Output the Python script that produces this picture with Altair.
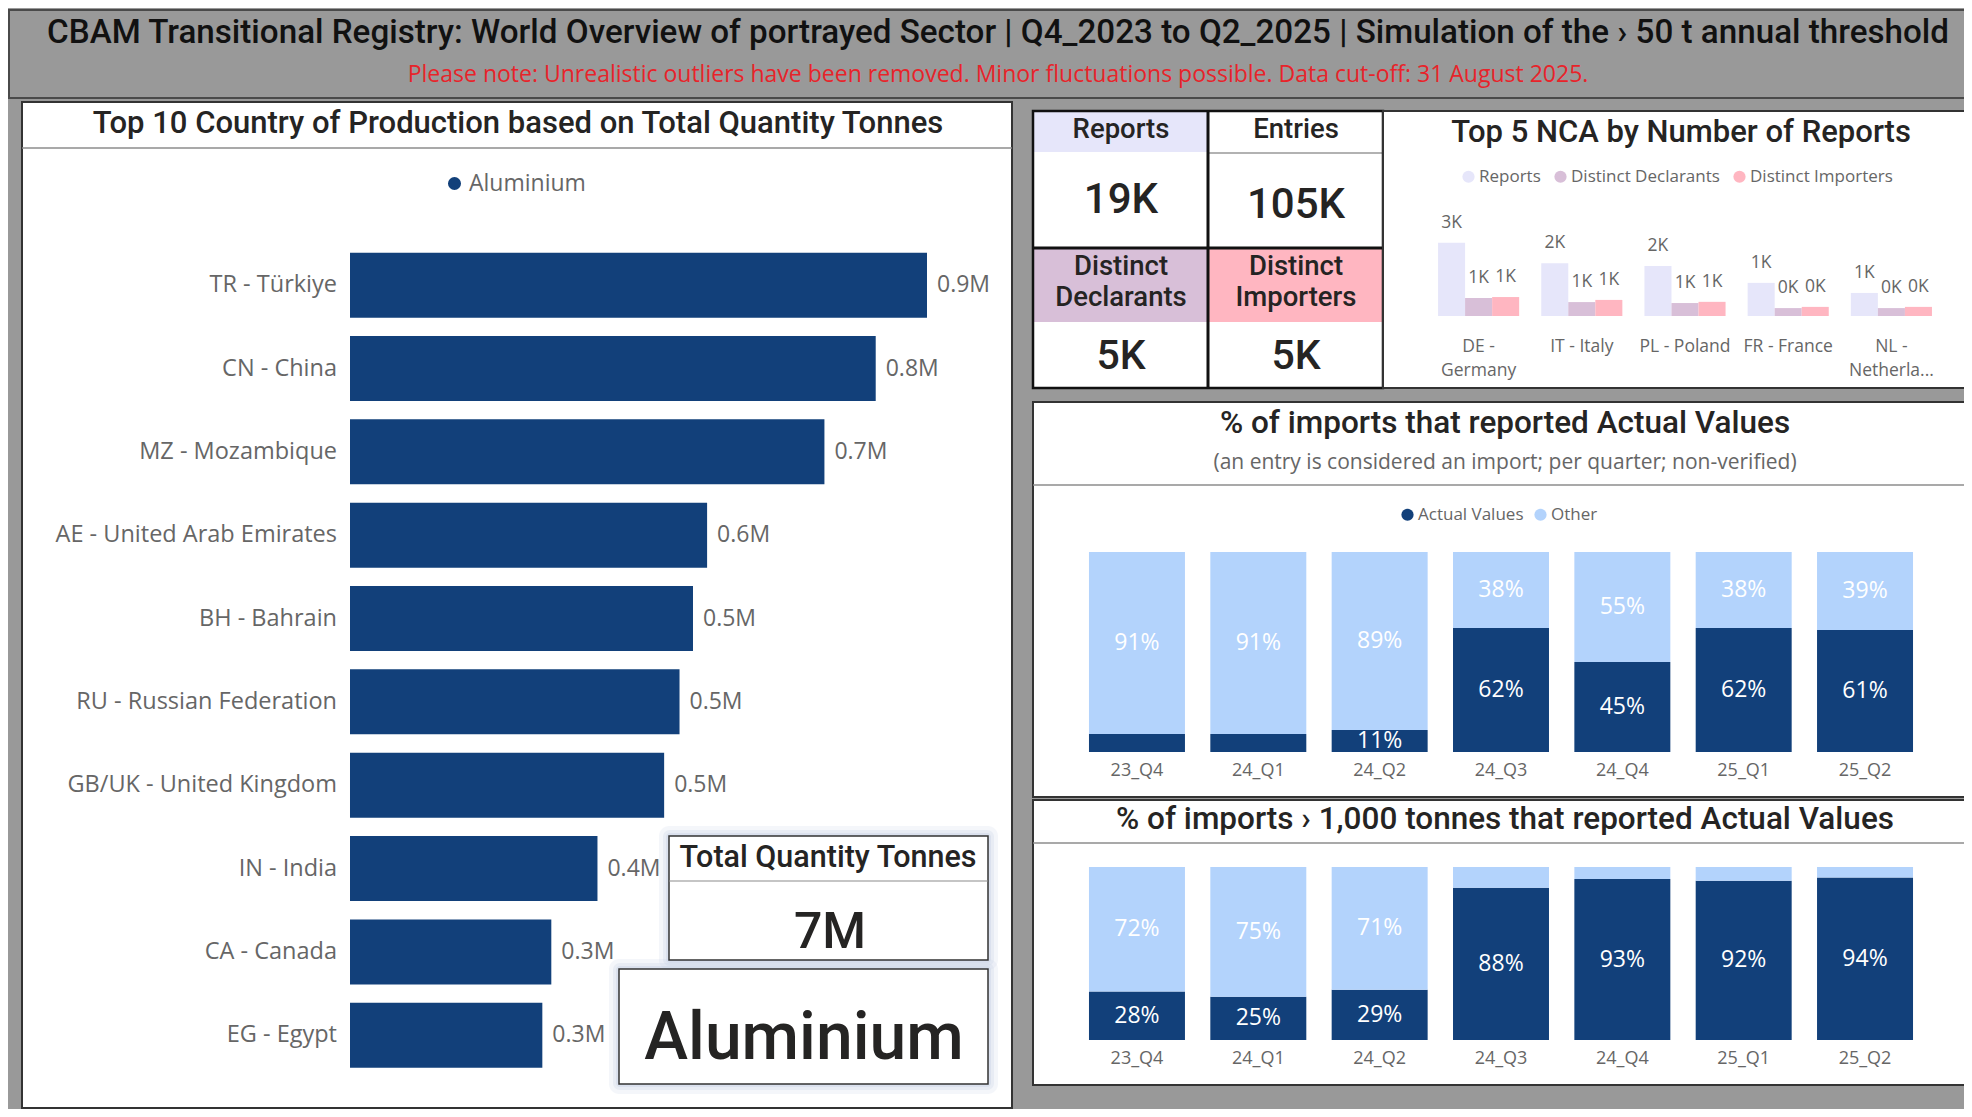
import altair as alt
import pandas as pd

# ---------------- data ----------------
title_text = "CBAM Transitional Registry: World Overview of portrayed Sector | Q4_2023 to Q2_2025 | Simulation of the \u203a 50 t annual threshold"
note_text = "Please note: Unrealistic outliers have been removed. Minor fluctuations possible. Data cut-off: 31 August 2025."

countries = ["TR - Türkiye", "CN - China", "MZ - Mozambique", "AE - United Arab Emirates",
             "BH - Bahrain", "RU - Russian Federation", "GB/UK - United Kingdom",
             "IN - India", "CA - Canada", "EG - Egypt"]
tonnes = [900000, 820000, 740000, 557000, 535000, 514000, 490000, 386000, 314000, 300000]
sector = "Aluminium"
total_tonnes_label = "7M"

kpi_names = ["Reports", "Entries", "Distinct Declarants", "Distinct Importers"]
kpi_values = ["19K", "105K", "5K", "5K"]

nca = ["DE - Germany", "IT - Italy", "PL - Poland", "FR - France", "NL - Netherlands"]
metrics = ["Reports", "Distinct Declarants", "Distinct Importers"]
nca_reports = [3050, 2200, 2080, 1380, 960]
nca_declarants = [750, 580, 540, 330, 330]
nca_importers = [790, 670, 590, 380, 380]

quarters = ["23_Q4", "24_Q1", "24_Q2", "24_Q3", "24_Q4", "25_Q1", "25_Q2"]
series = ["Actual Values", "Other"]
actual_all = [9, 9, 11, 62, 45, 62, 61]
other_all = [91, 91, 89, 38, 55, 38, 39]
actual_big = [28, 25, 29, 88, 93, 92, 94]
other_big = [72, 75, 71, 12, 7, 8, 6]

# ---------------- styles ----------------
W, H = 1956, 1101
BG = "#999999"
NAVY = "#12407a"
LIGHT = "#b3d3fc"
GTXT = "#666666"
DTXT = "#252423"
TF = "Roboto"
BF = "Open Sans"

one = pd.DataFrame({"k": [0]})


def rect(x, x2, y, y2, fill="white", stroke=None, sw=0, opacity=1.0, corner=0, fill_opacity=1.0):
    kw = dict(fill=fill, opacity=opacity, fillOpacity=fill_opacity)
    if stroke:
        kw.update(stroke=stroke, strokeWidth=sw)
    if corner:
        kw["cornerRadius"] = corner
    return alt.Chart(one).mark_rect(**kw).encode(
        x=alt.value(x), x2=alt.value(x2), y=alt.value(y), y2=alt.value(y2))


def hline(x, x2, y, color, sw):
    return alt.Chart(one).mark_rule(color=color, strokeWidth=sw).encode(
        x=alt.value(x), x2=alt.value(x2), y=alt.value(y))


def vline(x, y, y2, color, sw):
    return alt.Chart(one).mark_rule(color=color, strokeWidth=sw).encode(
        x=alt.value(x), y=alt.value(y), y2=alt.value(y2))


def label(txt, x, y, size, font=TF, color=DTXT, weight=500, align="center", baseline="alphabetic"):
    return alt.Chart(one).mark_text(text=txt, font=font, fontSize=size, color=color,
                                    fontWeight=weight, align=align, baseline=baseline).encode(
        x=alt.value(x), y=alt.value(y))


def glow(x, x2, y, y2):
    return [rect(x - 10, x2 + 10, y - 10, y2 + 10, fill="#c3cfe2", opacity=0.18, corner=10),
            rect(x - 6, x2 + 6, y - 6, y2 + 6, fill="#c3cfe2", opacity=0.25, corner=7),
            rect(x - 3, x2 + 3, y - 3, y2 + 3, fill="#c3cfe2", opacity=0.35, corner=4)]


layers = []

# ---------------- title band ----------------
layers.append(rect(1, 1975, 2, 90, fill=BG, stroke="#4a4a4a", sw=2))
layers.append(label(title_text, 990, 35, 33.2, color="#111111"))
layers.append(label(note_text, 990, 74, 23, font=BF, color="#e8232a", weight="normal"))

# ---------------- left panel ----------------
layers.append(rect(14, 1004, 94, 1100, fill="white", stroke="#333333", sw=2))
layers.append(hline(14, 1004, 140, "#8c8c8c", 1.5))
layers.append(label("Top 10 Country of Production based on Total Quantity Tonnes", 510, 125, 31))

left_df = pd.DataFrame({"country": countries, "tonnes": tonnes, "sector": [sector] * len(countries)})
xs_left = alt.Scale(domain=[0, 900000], range=[342, 919], nice=False, zero=True)
ys_left = alt.Scale(domain=countries, range=[235.5, 1068.9], paddingInner=0.22, paddingOuter=0.11)

left_bars = alt.Chart(left_df).mark_bar().encode(
    x=alt.X("tonnes:Q", scale=xs_left, axis=None),
    y=alt.Y("country:N", scale=ys_left, axis=None),
    color=alt.Color("sector:N", scale=alt.Scale(domain=[sector], range=[NAVY]),
                    legend=alt.Legend(orient="none", legendX=435, legendY=164, title=None,
                                      symbolType="circle", symbolSize=170, labelFont=BF,
                                      labelFontSize=23, labelColor=GTXT, padding=0,
                                      labelOffset=3)))
left_vals = alt.Chart(left_df).transform_calculate(
    lab="format(datum.tonnes / 1000000, '.1f') + 'M'").mark_text(
    align="left", baseline="middle", dx=10, font=BF, fontSize=23, color=GTXT).encode(
    x=alt.X("tonnes:Q", scale=xs_left, axis=None),
    y=alt.Y("country:N", scale=ys_left, axis=None),
    text="lab:N")
left_cats = alt.Chart(left_df).transform_calculate(zero="0").mark_text(
    align="right", baseline="middle", dx=-13, font=BF, fontSize=23.5, color=GTXT).encode(
    x=alt.X("zero:Q", scale=xs_left, axis=None),
    y=alt.Y("country:N", scale=ys_left, axis=None),
    text="country:N")
layers += [left_bars, left_vals, left_cats]

# KPI boxes inside left panel
layers += glow(661, 980, 828, 952)
layers += glow(611, 980, 961, 1076)
layers.append(rect(661, 980, 828, 952, fill="white", stroke="#333333", sw=1.5))
layers.append(hline(661, 980, 873, "#8c8c8c", 1.2))
layers.append(label("Total Quantity Tonnes", 820, 859, 30.5))
layers.append(label(total_tonnes_label, 822, 940, 50))
layers.append(rect(611, 980, 961, 1076, fill="white", stroke="#333333", sw=1.5))
layers.append(label(sector, 796, 1051, 66))

# ---------------- KPI grid ----------------
layers.append(rect(1025, 1375, 103, 380, fill="white"))
layers.append(rect(1025, 1200, 103, 144, fill="#e6e6fa"))
layers.append(rect(1025, 1200, 240, 314, fill="#d8bfd8"))
layers.append(rect(1200, 1375, 240, 314, fill="#ffb6c1"))
layers.append(hline(1200, 1375, 145, "#999999", 1.5))
layers.append(vline(1200, 103, 380, "#111111", 3))
layers.append(hline(1025, 1375, 240, "#111111", 3))
layers.append(rect(1025, 1375, 103, 380, fill="white", fill_opacity=0, stroke="#111111", sw=2.5))

layers.append(label(kpi_names[0], 1113, 130, 27.5))
layers.append(label(kpi_names[1], 1288, 130, 27.5))
layers.append(label(kpi_values[0], 1113, 205, 42))
layers.append(label(kpi_values[1], 1288, 210, 42))
for cx, name in [(1113, kpi_names[2]), (1288, kpi_names[3])]:
    w1, w2 = name.split(" ")
    layers.append(label(w1, cx, 267, 27.5))
    layers.append(label(w2, cx, 298, 27.5))
layers.append(label(kpi_values[2], 1113, 361, 41))
layers.append(label(kpi_values[3], 1288, 361, 41))

# ---------------- Top 5 NCA ----------------
layers.append(rect(1375, 1975, 103, 380, fill="white", stroke="#333333", sw=2))
layers.append(label("Top 5 NCA by Number of Reports", 1673, 134, 31))

rows = []
for m, vals in zip(metrics, [nca_reports, nca_declarants, nca_importers]):
    for c, v in zip(nca, vals):
        rows.append({"nca": c, "metric": m, "value": v})
nca_df = pd.DataFrame(rows)
xs_nca = alt.Scale(domain=nca, range=[1419, 1935], paddingInner=0.214, paddingOuter=0.107)
xo_nca = alt.Scale(domain=metrics, paddingInner=0, paddingOuter=0)
xo_nca_txt = alt.Scale(type="point", domain=metrics, padding=0.5)
ys_nca = alt.Scale(domain=[0, 3000], range=[308, 236], nice=False, zero=True)

nca_bars = alt.Chart(nca_df).mark_bar().encode(
    x=alt.X("nca:N", scale=xs_nca, axis=None),
    xOffset=alt.XOffset("metric:N", scale=xo_nca),
    y=alt.Y("value:Q", scale=ys_nca, axis=None),
    color=alt.Color("metric:N", scale=alt.Scale(domain=metrics, range=["#e6e6fa", "#d8bfd8", "#ffb6c1"]),
                    legend=alt.Legend(orient="none", legendX=1452, legendY=160, title=None,
                                      direction="horizontal", symbolType="circle", symbolSize=150,
                                      labelFont=BF, labelFontSize=17, labelColor=GTXT, padding=0,
                                      columnPadding=11, labelOffset=2)))
nca_vals = alt.Chart(nca_df).transform_calculate(
    lab="format(datum.value / 1000, '.0f') + 'K'").mark_text(
    baseline="middle", dy=-20, font=BF, fontSize=17.5, color=GTXT).encode(
    x=alt.X("nca:N", scale=xs_nca, axis=None),
    xOffset=alt.XOffset("metric:N", scale=xo_nca_txt),
    y=alt.Y("value:Q", scale=ys_nca, axis=None),
    text="lab:N")
wrap_expr = ("length(datum.nca) > 11 ? split(datum.nca, ' - ')[0] + ' -\\n' + "
             "(length(split(datum.nca, ' - ')[1]) > 8 ? slice(split(datum.nca, ' - ')[1], 0, 8) + '...' "
             ": split(datum.nca, ' - ')[1]) : datum.nca")
nca_cats = alt.Chart(pd.DataFrame({"nca": nca})).transform_calculate(
    zero="0", lab=wrap_expr).mark_text(
    baseline="top", dy=22, lineBreak="\n", lineHeight=24, font=BF, fontSize=17.5, color=GTXT).encode(
    x=alt.X("nca:N", scale=xs_nca, axis=None),
    y=alt.Y("zero:Q", scale=ys_nca, axis=None),
    text="lab:N")
layers += [nca_bars, nca_vals, nca_cats]

# ---------------- stacked percentage panels ----------------
xs_q = alt.Scale(domain=quarters, range=[1068.3, 1917.7], paddingInner=0.209, paddingOuter=0.1045)


def stacked(actual, other, ys, legend, thresh):
    df = pd.DataFrame({
        "quarter": quarters * 2,
        "series": [series[0]] * len(quarters) + [series[1]] * len(quarters),
        "pct": actual + other,
        "ord": [0] * len(quarters) + [1] * len(quarters),
    })
    base = alt.Chart(df).transform_stack(
        stack="pct", groupby=["quarter"], as_=["y0", "y1"],
        sort=[alt.SortField("ord", order="ascending")])
    bars = base.mark_bar().encode(
        x=alt.X("quarter:N", scale=xs_q, axis=None),
        y=alt.Y("y0:Q", scale=ys, axis=None),
        y2="y1:Q",
        color=alt.Color("series:N", scale=alt.Scale(domain=series, range=[NAVY, LIGHT]), legend=legend))
    labs = base.transform_filter(f"datum.pct >= {thresh}").transform_calculate(
        mid="(datum.y0 + datum.y1) / 2", lab="datum.pct + '%'").mark_text(
        baseline="middle", font=BF, fontSize=23, color="white").encode(
        x=alt.X("quarter:N", scale=xs_q, axis=None),
        y=alt.Y("mid:Q", scale=ys, axis=None),
        text="lab:N")
    cats = alt.Chart(pd.DataFrame({"quarter": quarters})).transform_calculate(zero="0").mark_text(
        baseline="middle", dy=19, font=BF, fontSize=18, color=GTXT).encode(
        x=alt.X("quarter:N", scale=xs_q, axis=None),
        y=alt.Y("zero:Q", scale=ys, axis=None),
        text="quarter:N")
    return [bars, labs, cats]


# panel 2
layers.append(rect(1025, 1975, 394, 789, fill="white", stroke="#333333", sw=2))
layers.append(hline(1025, 1975, 477, "#8c8c8c", 1.5))
layers.append(label("% of imports that reported Actual Values", 1497, 425, 31.5))
layers.append(label("(an entry is considered an import; per quarter; non-verified)", 1497, 461, 21,
                    font=BF, color=GTXT, weight="normal"))
leg2 = alt.Legend(orient="none", legendX=1391, legendY=498, title=None, direction="horizontal",
                  symbolType="circle", symbolSize=150, labelFont=BF, labelFontSize=17,
                  labelColor=GTXT, padding=0, columnPadding=8, labelOffset=2)
layers += stacked(actual_all, other_all, alt.Scale(domain=[0, 100], range=[744, 544], nice=False), leg2, 10)

# panel 3
layers.append(rect(1025, 1975, 792, 1077, fill="white", stroke="#333333", sw=2))
layers.append(hline(1025, 1975, 835, "#8c8c8c", 1.5))
layers.append(label("% of imports \u203a 1,000 tonnes that reported Actual Values", 1497, 821, 31.5))
layers += stacked(actual_big, other_big, alt.Scale(domain=[0, 100], range=[1032, 859], nice=False), None, 13)

chart = alt.layer(*layers).resolve_scale(
    x="independent", y="independent", color="independent", xOffset="independent"
).properties(
    width=W, height=H, autosize=alt.AutoSizeParams(type="none"), padding=0
).configure(background=BG).configure_view(stroke=None)

chart.save("out.html", embed_options={"renderer": "svg", "actions": False})
